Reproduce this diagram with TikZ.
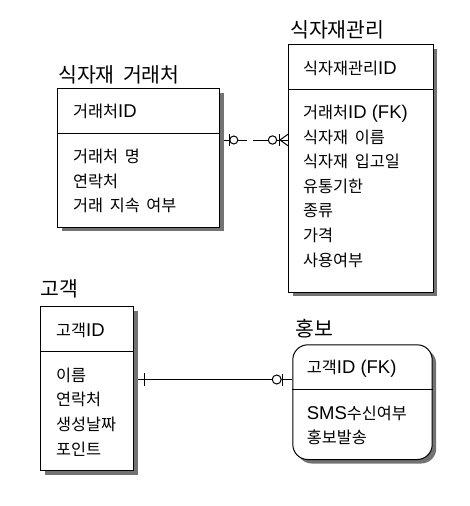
\documentclass[tikz,border=0pt]{standalone}
\usepackage{fontspec}
\newfontfamily\kr[WordSpace=1.8]{Noto Sans CJK KR}
\newfontfamily\la{Liberation Sans}
\newcommand\LA[1]{{\la\fontsize{18.5}{20}\selectfont #1}}
\usetikzlibrary{shadows}
\tikzset{
  ent/.style={draw, line width=1pt, fill=white, anchor=north west, inner sep=0pt,
    drop shadow={shadow xshift=4pt, shadow yshift=-4pt, fill=black!55, opacity=1}},
  ttl/.style={anchor=base west, inner sep=0pt, font=\kr\fontsize{20.5}{24}\selectfont},
  att/.style={anchor=base west, inner sep=0pt, font=\kr\fontsize{16.3}{18}\selectfont},
  conn/.style={line width=1pt},
  divl/.style={line width=1pt},
}
\begin{document}
\begin{tikzpicture}[x=1pt,y=-1pt]
\useasboundingbox (0,0) rectangle (469,506);

% entity boxes
\node[ent, minimum width=162pt, minimum height=138.4pt] (e1) at (57.3,88.3) {};
\node[ent, minimum width=144.4pt, minimum height=247.4pt] (e2) at (288.3,44.3) {};
\node[ent, minimum width=93pt, minimum height=163.7pt] (e3) at (40.3,306.3) {};
\node[ent, rounded corners=15pt, minimum width=139.4pt, minimum height=114.7pt] (e4) at (292.3,344.3) {};

% dividers
\draw[divl] (e1.west |- 0,133.3) -- (e1.east |- 0,133.3);
\draw[divl] (e2.west |- 0,89.3) -- (e2.east |- 0,89.3);
\draw[divl] (e3.west |- 0,351) -- (e3.east |- 0,351);
\draw[divl] (e4.west |- 0,389.5) -- (e4.east |- 0,389.5);

% titles
\node[ttl] (t1) at (58,82.5) {식자재 거래처};
\node[ttl] (t2) at (290,37.5) {식자재관리};
\node[ttl] (t3) at (40,296) {고객};
\node[ttl] (t4) at (295,336) {홍보};

% entity 1 text
\node[att] (a1k) at (73,117) {거래처\LA{ID}};
\node[att] (a11) at (73,162.5) {거래처 명};
\node[att] (a12) at (73,187) {연락처};
\node[att] (a13) at (73,211) {거래 지속 여부};

% entity 2 text
\node[att] (a2k) at (303,74.3) {식자재관리\LA{ID}};
\node[att] (a21) at (303,118.5) {거래처\LA{ID (FK)}};
\node[att] (a22) at (303,143) {식자재 이름};
\node[att] (a23) at (303,167.7) {식자재 입고일};
\node[att] (a24) at (303,192.3) {유통기한};
\node[att] (a25) at (303,216.9) {종류};
\node[att] (a26) at (303,241.5) {가격};
\node[att] (a27) at (303,266) {사용여부};

% entity 3 text
\node[att] (a3k) at (56,336) {고객\LA{ID}};
\node[att] (a31) at (56,381) {이름};
\node[att] (a32) at (56,405.5) {연락처};
\node[att] (a33) at (56,430.5) {생성날짜};
\node[att] (a34) at (56,455) {포인트};

% entity 4 text
\node[att] (a4k) at (306.7,373.3) {고객\LA{ID (FK)}};
\node[att] (a41) at (306.7,419) {\LA{SMS}수신여부};
\node[att] (a42) at (306.7,443.5) {홍보발송};

% connector 1 (with gap)
\coordinate (g1) at (247,140);
\coordinate (g2) at (253,140);
\draw[conn] ([xshift=4pt]e1.east |- g1) -- (g1);
\draw[conn] (g2) -- (e2.west |- g2);
\draw[conn] (229,134) -- (229,146);
\draw[conn, fill=white] (233.8,140) circle (4pt);
\draw[conn, fill=white] (272.5,140) circle (4.2pt);
\draw[conn] (279,134) -- (279,146);
\draw[conn] (280,140) -- (e2.west |- 0,134);
\draw[conn] (280,140) -- (e2.west |- 0,146);

% connector 2
\coordinate (r2) at (200,379.5);
\draw[conn] ([xshift=4pt]e3.east |- r2) -- (e4.west |- r2);
\draw[conn] (144.3,373) -- (144.3,386);
\draw[conn, fill=white] (276.7,379.5) circle (4.5pt);
\draw[conn] (282.3,373.5) -- (282.3,385.5);
\end{tikzpicture}
\end{document}
